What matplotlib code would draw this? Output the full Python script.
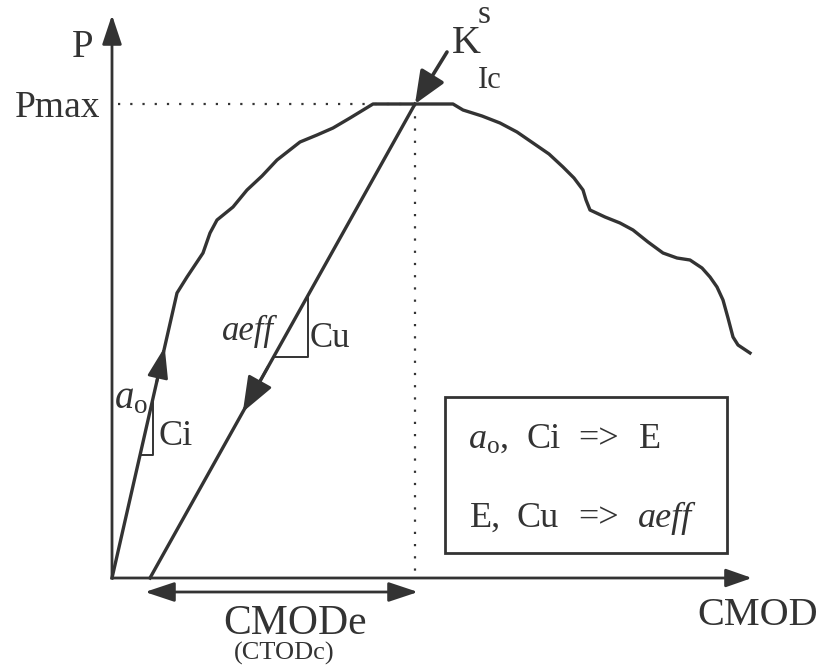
import numpy as np
import matplotlib
matplotlib.use("Agg")
import matplotlib.pyplot as plt

plt.rcParams['font.family'] = ['Liberation Serif', 'DejaVu Serif']
plt.rcParams['mathtext.fontset'] = 'custom'
plt.rcParams['mathtext.rm'] = 'Liberation Serif'
plt.rcParams['mathtext.it'] = 'Liberation Serif:italic'

# load - CMOD record (arbitrary units, origin at axes corner)
cmod = [0, 65, 75, 91, 98, 105, 121, 135, 150, 165, 188, 205, 221, 238, 261,
        341, 351, 370, 388, 405, 421, 437, 451, 462, 471, 474, 478, 493, 508,
        521, 536, 551, 565, 578, 590, 598, 605, 611, 616, 621, 626, 638]
load = [0, 285, 301, 325, 345, 358, 371, 388, 402, 418, 436, 443, 450, 460, 474,
        474, 468, 462, 455, 446, 435, 424, 411, 400, 388, 378, 368, 361, 355,
        348, 336, 325, 320, 318, 310, 301, 291, 278, 260, 241, 233, 225]

p_max = 474
cmod_at_pmax = 303
cmod_residual = 38        # unloading line meets the CMOD axis here
x_end, y_end = 640, 563   # axis arrow tips

ink = '#333333'

fig = plt.figure(figsize=(8.23, 6.72), dpi=100)
ax = fig.add_axes([0, 0, 1, 1])
ax.set_xlim(-112, 711)
ax.set_ylim(-94, 578)
ax.axis('off')


def arrow(x0, y0, x1, y1, style, lw=2.2):
    ax.annotate('', xy=(x1, y1), xytext=(x0, y0),
                arrowprops=dict(arrowstyle=style, color=ink, lw=lw,
                                shrinkA=0, shrinkB=0, mutation_scale=20))


def words(pieces, y, size):
    # pieces: (x, text, italic)
    for x, s, it in pieces:
        ax.text(x, y, s, fontsize=size, color=ink, ha='left', va='baseline',
                style='italic' if it else 'normal')


# axes with arrow heads
arrow(0, 0, x_end, 0, '-|>,head_length=0.8,head_width=0.28', lw=2.0)
arrow(0, 0, 0, y_end, '-|>,head_length=0.9,head_width=0.3', lw=2.0)

# curve
ax.plot(cmod, load, color=ink, lw=2.4, solid_joinstyle='round')

# unloading line
ax.plot([cmod_residual, cmod_at_pmax], [0, p_max], color=ink, lw=2.4)

# dotted guides to Pmax
ax.plot([6, cmod_at_pmax], [p_max, p_max], color=ink, lw=1.6, ls=(0, (1, 4.5)))
ax.plot([cmod_at_pmax, cmod_at_pmax], [p_max, 0], color=ink, lw=1.6, ls=(0, (1, 4.5)))

# direction arrows on loading / unloading lines
k_i = load[1] / cmod[1]
k_u = p_max / (cmod_at_pmax - cmod_residual)
tip_i = 231
arrow(tip_i / k_i - 8, tip_i - 8 * k_i, tip_i / k_i, tip_i,
      '-|>,head_length=0.95,head_width=0.32', lw=2.0)
tip_u = 166
xu = cmod_residual + tip_u / k_u
arrow(xu + 25, tip_u + 25 * k_u, xu, tip_u,
      '-|>,head_length=1.1,head_width=0.42', lw=2.0)

# compliance triangles
ci_x, ci_y = 41, 123
ax.plot([ci_y / k_i, ci_x, ci_x], [ci_y, ci_y, ci_x * k_i], color=ink, lw=1.4)
cu_x, cu_y = 196, 221
ax.plot([cmod_residual + cu_y / k_u, cu_x, cu_x],
        [cu_y, cu_y, (cu_x - cmod_residual) * k_u], color=ink, lw=1.4)

# K_Ic^s pointer
arrow(335, 526, cmod_at_pmax, p_max, '-|>,head_length=1.0,head_width=0.42', lw=2.6)

# CMODe span
arrow(cmod_at_pmax + 3, -14, 33, -14, '<|-|>,head_length=0.9,head_width=0.3', lw=2.0)

# labels
ax.text(-29, 521, 'P', fontsize=28, color=ink, ha='center', va='baseline')
ax.text(-12, 461, 'Pmax', fontsize=27, color=ink, ha='right', va='baseline')
ax.text(340, 525, 'K', fontsize=29, color=ink, ha='left', va='baseline')
ax.text(366, 555, 's', fontsize=24, color=ink, ha='left', va='baseline')
ax.text(366, 490, 'Ic', fontsize=22, color=ink, ha='left', va='baseline')
ax.text(2, 170, r'$\mathit{a}_{\mathrm{o}}$', fontsize=28, color=ink, ha='left', va='baseline')
ax.text(46, 133, 'Ci', fontsize=26, color=ink, ha='left', va='baseline')
ax.text(110, 238, 'aeff', fontsize=25, style='italic', color=ink, ha='left', va='baseline')
ax.text(198, 231, 'Cu', fontsize=25, color=ink, ha='left', va='baseline')
ax.text(706, -47, 'CMOD', fontsize=29, color=ink, ha='right', va='baseline')
ax.text(183, -56, 'CMODe', fontsize=30, color=ink, ha='center', va='baseline')
ax.text(172, -82, '(CTODc)', fontsize=19, color=ink, ha='center', va='baseline')

# summary box
ax.add_patch(plt.Rectangle((333, 25), 282, 156, fill=False, ec=ink, lw=2.0))
words([(356, r'$\mathit{a}_{\mathrm{o}}$,', False), (414, 'Ci', False),
       (466, '=>', False), (527, 'E', False)], 130, 26)
words([(358, 'E,', False), (405, 'Cu', False), (466, '=>', False),
       (526, 'aeff', True)], 51, 26)

fig.savefig('out.png', dpi=100)
